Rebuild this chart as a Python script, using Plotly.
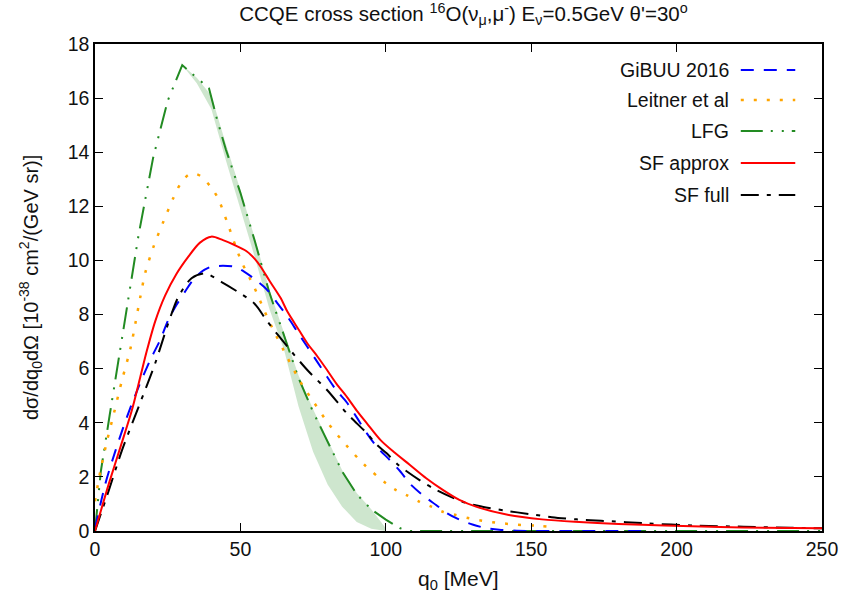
import plotly.graph_objects as go

# ---------------- data ----------------
q_gibuu = [0, 3.6, 7.1, 11, 15, 19, 22.4, 25.2, 28, 30.9, 33.5, 36.6, 40, 44, 48, 51.4, 55, 59.3,
           62.5, 66.2, 69.5, 73, 76.5, 79.8, 83, 86.6, 90, 93.5, 97, 101.4, 105, 108.2, 113, 117.3,
           121, 125.3, 129.8, 134, 139, 145, 150, 160, 170, 180, 190]
y_gibuu = [0.1, 1.76, 2.99, 4.22, 5.33, 6.32, 7.06, 7.8, 8.35, 8.84, 9.25, 9.58, 9.77, 9.8, 9.77,
           9.58, 9.3, 8.9, 8.45, 7.92, 7.38, 6.81, 6.24, 5.7, 5.2, 4.75, 4.2, 3.61, 3.1, 2.62, 2.2,
           1.76, 1.3, 0.96, 0.66, 0.42, 0.24, 0.12, 0.05, 0.01, 0, 0, 0, 0, 0]

q_leitner = [0, 1.9, 4.2, 6.5, 9.3, 12.2, 13.9, 15.6, 17.3, 20.1, 23.5, 26.9, 29.2, 32.1, 34.5,
             36.6, 39.8, 42.3, 45.5, 50.2, 54.8, 58, 61, 66.2, 70.7, 75.3, 80.4, 86.3, 92.5, 99.4,
             103.1, 107.1, 111.6, 115.7, 119.6, 124.1, 128.7, 133.2, 137.8, 142.3, 146.9, 151.4, 156]
y_leitner = [1.1, 2.25, 3.36, 4.35, 5.58, 6.75, 7.68, 8.66, 9.55, 10.5, 11.43, 12.3, 12.8, 13.16,
             13.2, 13.1, 12.72, 12.3, 11.4, 10.0, 9.0, 8.2, 7.5, 6.4, 5.5, 4.75, 3.95, 3.18, 2.46,
             1.82, 1.54, 1.33, 1.08, 0.9, 0.71, 0.59, 0.47, 0.38, 0.31, 0.26, 0.22, 0.2, 0.16]

q_lfg = [0, 2, 5, 10, 15, 20, 25, 30, 35, 39.2, 42, 45, 50, 55, 60, 65, 70, 75, 80, 85, 90, 95,
         100, 105, 108, 150, 200, 250]
y_lfg = [0, 2.2, 4.25, 7.6, 10.95, 13.8, 15.9, 17.22, 16.75, 16.36, 15.2, 14.1, 12.5, 10.7, 8.8,
         7.2, 5.65, 4.4, 3.3, 2.2, 1.36, 0.8, 0.42, 0.1, 0, 0, 0, 0]

q_band = [30, 35, 40, 45, 50, 55, 60, 65, 70, 75, 80, 85, 90, 95, 100]
y_band_hi = [17.22, 16.75, 16.1, 14.3, 12.6, 10.8, 8.9, 7.3, 5.75, 4.5, 3.35, 2.25, 1.4, 0.8, 0.1]
y_band_lo = [17.22, 16.55, 15.6, 13.7, 11.9, 10.1, 8.2, 6.7, 4.6, 2.93, 1.72, 0.9, 0.33, 0.08, 0.0]

q_sfa = [0, 4.8, 8.8, 12.7, 15.6, 17.8, 20.7, 24.1, 28, 32.1, 36, 40, 44, 48, 52, 55, 57.1, 60,
         63.9, 66.2, 70, 73, 76.5, 79.8, 83, 86.6, 90, 93.5, 98.2, 103, 108.2, 113.9, 119.6,
         125.3, 131, 142.3, 153.7, 165, 180, 195.8, 215, 230, 250]
y_sfa = [0, 1.76, 3.12, 4.47, 5.7, 6.65, 7.75, 8.7, 9.5, 10.14, 10.65, 10.88, 10.75, 10.57, 10.35,
         10.05, 9.75, 9.25, 8.6, 8.1, 7.45, 6.94, 6.45, 5.95, 5.45, 4.96, 4.45, 3.98, 3.36, 2.9,
         2.45, 1.95, 1.52, 1.15, 0.9, 0.59, 0.43, 0.34, 0.26, 0.2, 0.15, 0.12, 0.1]

q_sff = [0, 4.8, 9.3, 15, 20.7, 25.2, 28.7, 33.2, 37.8, 43.4, 49.1, 54.8, 59.3, 66.2, 73, 79.8,
         86.6, 93.5, 97, 100.3, 104.3, 111.6, 117.3, 126.4, 133.2, 141.2, 149.2, 157.1, 165.6,
         174, 190, 206, 223, 239, 250]
y_sff = [0, 1.52, 2.99, 4.59, 6.2, 7.68, 8.66, 9.34, 9.52, 9.21, 8.84, 8.41, 7.74, 6.81, 5.95,
         5.21, 4.35, 3.61, 3.18, 2.87, 2.44, 1.88, 1.52, 1.08, 0.9, 0.75, 0.63, 0.51, 0.43, 0.38,
         0.28, 0.2, 0.16, 0.12, 0.1]

x_ticks = [0, 50, 100, 150, 200, 250]
y_ticks = [0, 2, 4, 6, 8, 10, 12, 14, 16, 18]

labels = ["GiBUU 2016", "Leitner et al", "LFG", "SF approx", "SF full"]
colors = ["#0000ff", "#ffa500", "#228b22", "#ff0000", "#000000"]
dashes = ["13px,10px", "3px,10px", "22px,8px,2px,9px,2px,8px", "solid", "18px,8px,4px,8px"]
widths = [2, 2.5, 2, 2, 2]
shapes_ = ["spline", "spline", "linear", "spline", "spline"]

# ---------------- figure ----------------
FONT = "Liberation Sans, Arial, sans-serif"
fig = go.Figure()

# LFG uncertainty band
fig.add_trace(go.Scatter(x=q_band + q_band[::-1], y=y_band_hi + y_band_lo[::-1],
                         fill="toself", fillcolor="rgba(34,139,34,0.22)",
                         line=dict(width=0), mode="lines", hoverinfo="skip", showlegend=False))

series = [(q_gibuu, y_gibuu), (q_leitner, y_leitner), (q_lfg, y_lfg), (q_sfa, y_sfa), (q_sff, y_sff)]
order = [2, 1, 0, 4, 3]
for i in order:
    qx, yy = series[i]
    fig.add_trace(go.Scatter(x=qx, y=yy, mode="lines", name=labels[i],
                             line=dict(color=colors[i], width=widths[i], dash=dashes[i],
                                       shape=shapes_[i], smoothing=0.8),
                             showlegend=False))

# manual gnuplot-style legend (text right, sample line on the right)
L, R, T, B = 95, 21, 44, 75
W, H = 850 - L - R, 606 - T - B
def px(x):
    return (x - L) / W
def py(y):
    return (606 - B - y) / H

rows = [70, 100, 131, 163, 195]
for i, lab in enumerate(labels):
    fig.add_annotation(x=px(737), y=py(rows[i]), xref="paper", yref="paper", text=lab,
                       showarrow=False, xanchor="right", yanchor="middle",
                       font=dict(family=FONT, size=19.5, color="#111"))
    fig.add_shape(type="line", xref="paper", yref="paper",
                  x0=px(747), x1=px(802), y0=py(rows[i]), y1=py(rows[i]),
                  line=dict(color=colors[i], width=widths[i], dash=dashes[i]))

fig.add_annotation(x=px(30), y=0.5, xref="paper", yref="paper", textangle=-90,
                   text="dσ/dq<sub>0</sub>dΩ [10<sup>-38</sup> cm<sup>2</sup>/(GeV sr)]",
                   showarrow=False, xanchor="center", yanchor="middle",
                   font=dict(family=FONT, size=20, color="#111"))
fig.add_annotation(x=0.5, y=py(580), xref="paper", yref="paper",
                   text="q<sub>0</sub> [MeV]", showarrow=False,
                   xanchor="center", yanchor="middle",
                   font=dict(family=FONT, size=21, color="#111"))

fig.update_layout(
    width=850, height=606,
    margin=dict(l=L, r=R, t=T, b=B),
    paper_bgcolor="white", plot_bgcolor="white",
    title=dict(text="CCQE cross section <sup>16</sup>O(ν<sub>μ</sub>,μ<sup>-</sup>) "
                    "E<sub>ν</sub>=0.5GeV θ'=30<sup>o</sup>",
               x=(467 - L) / W, xref="paper", xanchor="center", y=1 - 14 / 606, yanchor="middle",
               font=dict(family=FONT, size=20.5, color="#111")),
    font=dict(family=FONT, size=19, color="#111"),
)
axis_common = dict(showline=True, linecolor="black", linewidth=1.5, mirror="allticks",
                   ticks="inside", ticklen=8, tickwidth=1.2, tickcolor="black",
                   showgrid=False, zeroline=False,
                   tickfont=dict(family=FONT, size=19.5, color="#111"))
fig.update_xaxes(range=[0, 250], tickvals=x_ticks, **axis_common)
fig.update_yaxes(range=[0, 18], tickvals=y_ticks, **axis_common)

fig.write_html("out.html")
